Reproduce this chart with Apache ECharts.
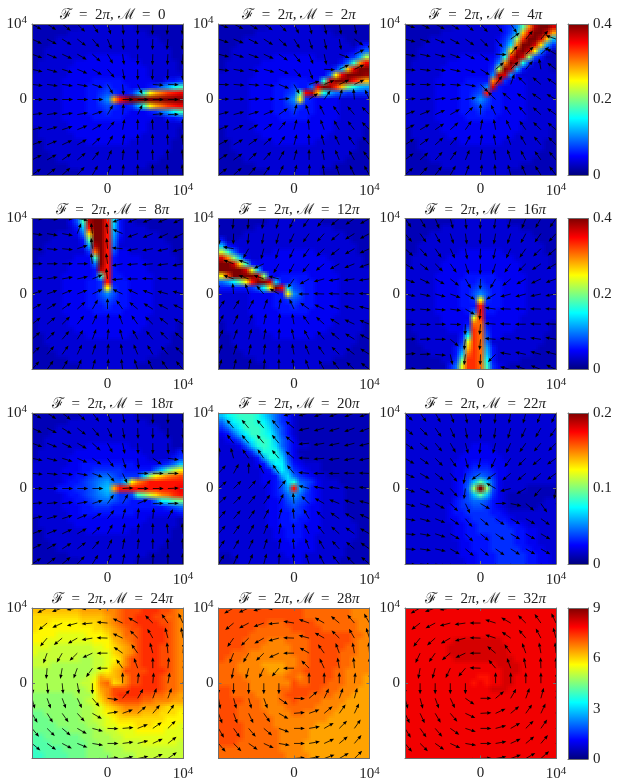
<!DOCTYPE html>
<html>
<head>
<meta charset="utf-8">
<title>Vector fields</title>
<style>
html,body{margin:0;padding:0;background:#fff}
#main{width:618px;height:782px}
</style>
<script src="https://cdn.jsdelivr.net/npm/echarts@6/dist/echarts.min.js"></script>
</head>
<body>
<div id="main"></div>
<script>
// one char per cell, base 36: 0 = bottom of the colour bar, z = top
// rows run from y=+9600 down to y=-9600, '.' means "same as backdrop"
var backdrop=[
'2222222233333333322222222','2222223333333333333222222','2222333333333333333332222','2223333333333333333333222','2233333333333333333333322',
'2233333334444444333333322','2333333444444444443333332','2333334444444444444333332','3333334444444444444333333','3333344444555554444433333',
'3333344445556555444433333','3333344445567655444433333','3333344445579755444433333','3333344445567655444433333','3333344445556555444433333',
'3333344444555554444433333','3333334444444444444333333','2333334444444444444333332','2333333444444444443333332','2233333334444444333333322',
'2233333333333333333333322','2223333333333333333333222','2222333333333333333332222','2222223333333333333222222','2222222233333333322222222'];
var blank='.........................';

var cellsM0=[blank,blank,blank,blank,blank,blank,blank,blank,blank,
'......................556',
'...................568adf',
'................6afmprtuv',
'.............puxzzzzzzzzz',
'................6afmprtuv',
'...................568adf',
'......................556',
blank,blank,blank,blank,blank,blank,blank,blank,blank];
var cellsM2=[blank,blank,blank,
'.......................45',
'......................468',
'.....................56aj',
'....................58fqv',
'...................6bovzz',
'..................8mvzzzy',
'................5fvzzyuro',
'...............8vzytoheba',
'.............fvxoea876666',
'.............m65.........',
blank,blank,blank,blank,blank,blank,blank,blank,blank,blank,blank,blank];
var cellsM4=[
'................569gqxzzw',
'................57bovzzwp',
'...............469jtzzwob',
'...............57cqzzwna6',
'...............59nxzwm95.',
'..............46euzwi75..',
'..............59qzwe6....',
'..............6jzwb5.....',
'.............49xw9.......',
'.............5qw6........',
'.............9w..........',
'.............u...........',
blank,blank,blank,blank,blank,blank,blank,blank,blank,blank,blank,blank,blank];
var cellsM8=[
'......47fxzzuc5..........',
'.......5buzzub5..........',
'.......48nzzua5..........',
'........5gzzu94..........',
'........4axzu8...........',
'.........6rzu7...........',
'.........4fzu5...........',
'..........8zu5...........',
'..........5xu5...........',
'...........fu............',
'...........6u............',
'............m............',
blank,blank,blank,blank,blank,blank,blank,blank,blank,blank,blank,blank,blank];
var cellsM12=[blank,blank,blank,
'5........................',
'b54......................',
'kf84.....................',
'wqib4....................',
'zzwnf5...................',
'zzzzwlb..................',
'mszzzzwi5................',
'8adhmuzzwb...............',
'5555568dmzvc.............',
'...........m.............',
blank,blank,blank,blank,blank,blank,blank,blank,blank,blank,blank,blank];
var cellsM16=[blank,blank,blank,blank,blank,blank,blank,blank,blank,blank,blank,blank,blank,
'............m............',
'...........5u............',
'...........8u............',
'...........lt............',
'..........5rr5...........',
'..........8tr6...........',
'.........5etr7...........',
'.........6ltr8...........',
'........58otra5..........',
'........5brtrb5..........',
'........6httrd5..........',
'.......58lttrf64.........'];
var cellsM18=[blank,blank,blank,blank,blank,blank,
'........................5',
'.......................56',
'........5555555554444568b',
'........5566666555558bgjm',
'.......55678876666bimoqrs',
'......556789a88bmqsuuuuuu',
'....5556678abpuuuuuuuuuuv',
'......556789a8667fhknqrtu',
'.......55678876655558degh',
'........55666555555555678',
'........55555555544444445',
blank,blank,blank,blank,blank,blank,blank,blank];
var cellsM20=[
'bdefffeca8653222222222222','8bdeffedb8653222222222222','68bdfffec9753222222222222','458bdffeda753222222222222','3457bdffeb864222222222222',
'33347befec864332222222222','333346aeeea64222222222222','3333335aeec74322222222222','33333345add85433322222222','333333345ada6543322222222',
'3333333445ac8654332222222','33333334457ce876433322222','33333333457aua75433332222','333333334568a865433332222','3333333344578765433332222',
'3333333344567654433332222','3333333344556654433332222','3333333344556554433333222','3333333344555544433333322','3333333334455544433333322',
'3333333334455544333333322','3333333333445444333333222','3333333333444444333332222','2233333333344433333332222','2223333333334433333322222'];
var cellsM22=[
'3333333333333333333333333','3333333333333333333333333','3333333333333333333333333','3333333333333333333333333','3333333333333333333333333',
'3333333333344433333333333','3333333333444443333333333','3333333334444444333333333','3333333344455544433333333','3333333344566654433333333',
'3333333344678764433333333','33333333457bgb74333333333','33333333458izi74333322222','33333333457bgb64322222222','3333333356788754322222233',
'3333333456677654322222333','3333333455666655433333333','3333333445566665543333333','3333333344556666655433333','3333333344556666665544333',
'3333333344555566665544333','3333333334455566665544333','3333333334455566666554433','3333333334445556666655443','3333333333445556666655443'];
var cellsM24=[
'ooooooooppppqqrssstttssrq','nnnnnnnnoooopqrsstttssrrq','nnnmmmmmnnnopqrssttttssrq','nmmmmmmmmmnnopqrssttttsrq','mmmmlllllmmmnpprrsttttsrq',
'mmllllllllmmmopqrsttttsrq','lllkkkkkkkllmnopqstttssrq','lkkkkkkkkkkllnopqstttssrq','kkkkkkkkjjkklmnqsstttssrq','kkkjjjjjjjkklnoqsstttssrq',
'jjjjjjjjjjklmopsssstttsrq','jjjjjjjjjklpoopqsstttsrrq','jjjjjjjjkkmqrnoqsstttsrrq','jjjjjjjjjkmpqssstttttsrrq','iiiiiiijjjloqsttttssrrqqp',
'iiiiiiiijklnprssssrrqqqpp','iiiiiiiijjklnopqqqppponnn','hhiiiiiijjklmnopppooonnnm','hhhiiiiijjkklmnnnnnnnnmmm','hhhhiiiiijjkllmmmnnnmmmml',
'hhhhhhiiiijjkklllmmmmmlll','gghhhhhhiijjjkkllllllllll','ggghhhhhhiijjjkkkkllllllk','fgggghhhhiiijjjkkkkkkkkkk','ffgggghhhiiiijjjjkkkkkkkk'];
var cellsM28=[
'ssssssssssssssrrrrrrrrqqq','ssssssssssssssrrrrrrrrqqq','ssssssssrrrsssssrrrrrrrqq','ssssssrrrrrrsssssrrrrrrqq','sssssrrrrrrrrrssssssssrrq',
'ssssrrrrqqqrrrrsssssssrqq','ssssrrrqqqqqrrrssssssrrqq','ssrrrqqqqqqqrrrsssssrrrqq','srrrqqqqqqqqqrrsssssrrqqq','rrrqqqqppppqqrrsssssrrqqq',
'rrrqqqqqpppqrrsssssrrqqqq','rrrrqqqqqqqrrqrssssrrqqqp','rrrrrqqqqqqqsrrsssrrrqqqp','ssrrrqqqqqrrsssssrrrqqqpp','ssrrrrqqqqrssssrrrrqqqppp',
'ssssrrrqqqrrsrrrrqqqqpppp','sssrrrrqqqqrrrrrqqqqppppp','sssrrrrrqqqqrrqqqqqpppppp','sssrrrrrrqqqqqqqqqppppppp','ssssrrrrrqqqqqqqppppppppp',
'ssssrrrrrrqqqqqpppppppppp','ssssrrrrrrqqqqqpppppppppp','sssrrrrrrrqqqqppppppppppp','rrrrrrrrrrqqqqppppppppppp','rrrrrrrrrrrqqqqpppppppppp'];
var cellsM32=[
'vvvvvvvvvvvvvvvvvvvvvvvvv','vvvvvvvvvvvvvvvvvvvvvvvvv','vvvvvvvvvvvvvvvvvvvvvvvvv','vvvvvvvvvvvvvvvvvvvvvvvvv','vvvvvvvvvvvvvvvvvvvvvvvvv',
'vvvvvvvvwwwwwwwwvvvvvvvvv','vvvvvvvwwwwwwwwwwvvvvvvvv','vvvvvvvwwwwwwwwwwvvvvvvvv','vvvvvvvvwwwwwwwwwwvvvvvvv','vvvvvvvvvvvvvvvwwwwvvvvvv',
'vvvvvvvvvvvvvvvvwwwvvvvvv','vvvvvvvvvvvvuuvvwwvvvvvvv','vvvvvvvvvvvuvuvvwwvvvvvvv','vvvvvvvvvvvvvvwwwvvvvvvvv','vvvvvvvvvvvvvvvvvvvvvvvvv',
'vvvvvvvvvvvvvvvvvvvvvvvvv','vvvvvvvvvvvvvvvvvvvvvvvvv','vvvvvvvvvvvvvvvvvvvvvvvvv','vvvvvvvvvvvvvvvvvvvvvvvvv','vvvvvvvvvvvvvvvvvvvvvvvvv',
'vvvvvvvvvvvvvvvvvvvvvvvvv','vvvvvvvvvvvvvvvvvvvvvvvvv','vvvvvvvvvvvvvvvvvvvvvvvvv','vvvvvvvvvvvvvvvvvvvvvvvvv','vvvvvvvvvvvvvvvvvvvvvvvvv'];

// arrow direction in degrees, 11 rows (y=+10000 first), 11 columns (x=-10000 first)
// no arrow at the origin
var anglesM0=[[-30,-33,-38,-45,-57,-72,-85,-90,-92,-95,-95],[-25,-28,-32,-38,-50,-68,-85,-90,-92,-95,-95],[-20,-22,-25,-30,-42,-60,-82,-90,-92,-93,-95],[-13,-15,-18,-22,-30,-50,-80,-90,-93,-92,-92],[-7,-8,-8,-10,-18,-60,-85,-65,-5,-2,0],[0,0,0,0,0,null,0,0,0,0,0],[7,8,8,10,18,60,85,65,5,2,0],[13,15,18,22,30,50,80,90,93,92,92],[20,22,25,30,42,60,82,90,92,93,95],[27,30,35,40,52,68,85,90,92,93,95],[35,38,42,48,60,72,85,90,92,95,95]];
var anglesM2=[[-22,-27,-30,-35,-45,-63,-75,-78,-80,-80,-80],[-20,-22,-26,-32,-42,-58,-72,-78,-80,-35,-90],[-15,-17,-20,-25,-35,-52,-68,-78,-20,25,20],[-8,-10,-12,-15,-25,-48,-70,-3,25,25,22],[-2,-5,-5,-8,-22,-60,18,22,25,25,22],[3,3,4,4,5,null,35,55,75,95,115],[15,15,17,22,35,75,108,115,125,130,135],[22,25,28,35,50,75,95,110,120,128,135],[28,30,35,42,55,75,92,105,115,125,130],[33,36,42,48,60,75,90,100,112,120,125],[38,42,48,55,65,75,88,97,108,115,120]];
var anglesM4=[[-22,-25,-28,-32,-40,-48,-50,-55,50,50,50],[-15,-18,-22,-28,-35,-45,-50,35,50,50,160],[-10,-12,-15,-20,-28,-38,-3,50,45,42,150],[-5,-7,-8,-12,-18,-32,40,45,50,100,143],[0,-2,-3,-5,-10,-45,52,70,135,140,145],[5,5,8,8,10,null,135,140,145,145,150],[20,22,25,30,45,90,115,125,130,138,145],[28,30,35,42,55,80,100,115,125,135,140],[33,36,42,50,62,82,100,110,120,130,135],[38,42,48,55,68,82,98,108,118,125,130],[42,47,52,60,70,82,95,105,113,122,128]];
var anglesM8=[[-3,-5,-3,-10,97,97,-160,-158,-158,-158,-155],[-8,-10,-10,70,97,95,157,-160,-158,-155,-155],[-5,-6,-6,18,97,95,175,-170,-170,-168,-165],[0,0,0,0,97,97,-170,-175,-175,-173,-170],[8,10,10,12,22,97,-175,180,178,178,178],[18,20,22,22,25,null,155,155,160,165,165],[30,32,35,42,60,90,125,140,148,152,155],[38,40,45,52,65,85,110,125,135,142,148],[42,45,50,58,70,85,105,118,128,135,140],[45,50,55,65,72,85,100,112,120,130,135],[48,55,60,68,75,85,97,108,117,125,130]];
var anglesM12=[[-90,-95,-95,-100,-105,-115,-125,-130,-140,-145,-150],[-85,-92,-95,-100,-105,-115,-125,-132,-140,-148,-152],[170,170,-120,-105,-108,-115,-125,-135,-142,-150,-155],[165,160,160,-155,-120,-118,-128,-140,-150,-158,-160],[160,160,160,160,165,-125,-150,-165,-170,-172,-172],[92,95,108,132,150,null,180,178,178,177,177],[55,58,62,70,80,115,145,155,160,162,165],[62,65,70,78,85,100,125,138,148,155,158],[65,70,75,80,88,102,118,130,140,148,152],[70,73,78,83,88,100,112,125,135,142,148],[72,77,80,85,90,98,110,120,128,137,142]];
var anglesM16=[[-55,-60,-68,-75,-85,-92,-98,-105,-112,-120,-125],[-50,-55,-62,-72,-82,-92,-100,-108,-118,-125,-132],[-42,-48,-55,-65,-80,-92,-103,-115,-125,-135,-140],[-32,-38,-45,-55,-72,-92,-108,-125,-135,-145,-150],[-22,-25,-30,-38,-60,-92,-120,-140,-150,-155,-160],[-12,-12,-15,-20,-30,null,-150,-165,-165,-168,-170],[-5,-5,-5,-8,-30,-95,172,178,178,178,178],[-2,-2,0,-2,-92,-95,175,178,180,178,178],[2,2,0,-40,-97,-95,175,175,172,172,170],[5,2,-5,-78,-97,-92,-135,170,168,165,165],[5,5,-20,-80,-97,-92,-135,165,160,158,155]];
var anglesM18=[[-30,-33,-38,-43,-52,-68,-80,-88,-90,-90,-90],[-25,-27,-32,-38,-50,-65,-80,-88,-90,-90,-90],[-20,-22,-25,-30,-42,-62,-78,-88,-90,-88,-90],[-12,-14,-17,-23,-35,-55,-72,-85,-35,-8,0],[-5,-6,-7,-10,-20,-50,-65,0,0,0,0],[0,0,0,0,0,null,3,0,0,2,2],[5,6,7,10,18,55,60,22,2,2,2],[13,15,18,22,32,52,75,85,85,62,60],[20,22,25,30,42,62,78,85,90,95,95],[27,30,33,38,50,65,80,85,90,92,92],[33,37,40,47,58,70,80,85,88,90,92]];
var anglesM20=[[130,130,130,128,130,-165,-165,-160,-160,-158,-158],[135,130,130,130,130,140,-168,-165,-163,-160,-160],[125,128,130,130,130,140,-175,-170,-168,-165,-165],[85,105,125,125,130,140,178,-175,-172,-170,-170],[48,62,90,118,125,130,175,180,180,178,178],[42,45,48,52,50,null,165,170,172,172,172],[42,45,50,55,65,95,135,150,158,160,165],[48,50,55,62,75,95,120,135,145,150,155],[50,55,60,68,80,95,115,128,138,145,150],[55,60,65,72,82,95,110,120,132,140,145],[58,65,68,75,88,95,108,118,128,135,140]];
var anglesM22=[[-45,-55,-60,-70,-80,-90,-95,-100,-105,-110,-115],[-40,-45,-55,-65,-80,-90,-98,-105,-115,-120,-125],[-35,-40,-50,-60,-75,-95,-105,-115,-125,-130,-135],[-30,-35,-45,-55,-75,-100,-115,-125,-135,-140,-145],[-25,-30,-38,-50,-100,-145,-145,-140,-140,-140,-145],[-20,-25,-35,-48,-98,null,150,-165,-150,-130,-100],[-15,-20,-28,-45,-65,-30,2,-12,-40,-55,-65],[-10,-15,-22,-35,-50,-40,-35,-30,-30,-35,-40],[-5,-10,-18,-30,-45,-40,-35,-30,-30,-30,-35],[-3,-8,-12,-30,-40,-40,-35,-32,-30,-30,-30],[-3,-5,-10,-25,-35,-40,-35,-30,-30,-28,-28]];
var anglesM24=[[-150,-153,-160,-170,-175,-178,165,150,140,130,125],[-130,-140,-155,-165,-175,175,155,150,135,125,115],[-120,-130,-140,-150,-170,178,155,135,120,105,100],[-105,-110,-120,-135,-155,180,145,125,105,95,85],[-100,-95,-100,-110,-125,180,125,110,90,85,80],[-85,-85,-85,-80,-90,null,90,85,85,80,75],[-75,-70,-70,-65,-50,-8,50,60,70,70,65],[-60,-58,-55,-48,-30,8,20,40,50,55,60],[-50,-45,-40,-30,-15,-2,5,22,35,45,50],[-40,-35,-28,-22,-10,0,8,15,25,38,45],[-35,-30,-25,-18,-8,5,10,12,25,35,45]];
var anglesM28=[[-145,-150,-155,-165,-175,175,165,155,145,135,125],[-135,-140,-152,-160,-175,170,160,150,140,130,120],[-125,-125,-135,-150,-165,178,165,150,135,120,108],[-110,-112,-120,-135,-155,180,150,125,110,100,95],[-100,-100,-105,-115,-130,180,135,115,100,95,90],[-90,-90,-90,-90,-90,null,90,90,90,85,85],[-80,-75,-75,-70,-35,-2,40,65,70,75,75],[-70,-70,-65,-55,-30,5,20,40,55,65,70],[-60,-55,-50,-40,-20,0,10,30,45,55,65],[-50,-45,-35,-25,-10,0,10,25,40,50,55],[-45,-35,-30,-20,-8,5,10,20,30,45,50]];
var anglesM32=[[-145,-150,-160,-170,-178,170,160,150,140,130,125],[-135,-142,-152,-165,-172,180,162,150,135,125,115],[-125,-128,-138,-150,-165,178,162,145,130,118,105],[-110,-115,-125,-140,-155,180,140,125,110,100,95],[-100,-100,-105,-115,-130,178,130,110,100,92,90],[-90,-90,-90,-90,-90,null,90,90,90,90,85],[-75,-75,-70,-65,-35,0,40,60,70,75,80],[-65,-65,-60,-50,-25,3,25,40,55,65,70],[-58,-55,-50,-35,-18,0,15,30,45,55,60],[-50,-45,-35,-25,-10,0,10,25,40,50,55],[-42,-35,-28,-20,-8,3,10,20,30,42,50]];

var titleValues=['0','2π','4π','8π','12π','16π','18π','20π','22π','24π','28π','32π'];
var panelCells=[cellsM0,cellsM2,cellsM4,cellsM8,cellsM12,cellsM16,cellsM18,cellsM20,cellsM22,cellsM24,cellsM28,cellsM32];
var panelAngles=[anglesM0,anglesM2,anglesM4,anglesM8,anglesM12,anglesM16,anglesM18,anglesM20,anglesM22,anglesM24,anglesM28,anglesM32];
var rowMax=[0.4,0.4,0.2,9];
var rowTicks=[0.2,0.2,0.1,3];
var jetColors=['#00007f','#0000ff','#007fff','#00ffff','#7fff7f','#ffff00','#ff7f00','#ff0000','#7f0000'];

var colLeft=[32,218.5,405];
var rowTop=[24,218.5,413,608];
var plotSize=151;
var barLeft=568,barWidth=20;
var cellSize=800,arrowLen=1450;
var frameColor='#6e6e6e';
var textColor='#222';
var fontName='"Liberation Serif","DejaVu Serif",serif';
// the cell layers are painted shifted by these fractions of a cell and averaged, to soften the grid
var shifts=[-1/3,0,1/3];

function cellData(rows,max){
	var out=[];
	for(var r=0;r<rows.length;r++){
		for(var c=0;c<25;c++){
			var ch=rows[r].charAt(c);
			if(ch===''||ch==='.')ch=backdrop[r].charAt(c);
			out.push([-9600+c*cellSize,9600-r*cellSize,parseInt(ch,36)/35*max]);
		}
	}
	return out;
}
function arrowData(rows){
	var out=[];
	for(var r=0;r<11;r++){
		for(var c=0;c<11;c++){
			if(rows[r][c]===null)continue;
			out.push([-10000+c*2000,10000-r*2000,rows[r][c]]);
		}
	}
	return out;
}
function makeCell(sx,sy,alpha){
	return function(params,api){
		var x=api.value(0),y=api.value(1),half=cellSize/2;
		// cells on the rim reach past the frame so shifted layers leave no gap
		var x0=x-half-(x===-9600?cellSize:0),x1=x+half+(x===9600?cellSize:0);
		var y1=y+half+(y===9600?cellSize:0),y0=y-half-(y===-9600?cellSize:0);
		var a=api.coord([x0+sx*cellSize,y1+sy*cellSize]);
		var b=api.coord([x1+sx*cellSize,y0+sy*cellSize]);
		var l=Math.round(a[0]),t=Math.round(a[1]);
		return {type:'rect',shape:{x:l,y:t,width:Math.round(b[0])-l,height:Math.round(b[1])-t},
			style:{fill:api.visual('color'),opacity:alpha}};
	};
}
function renderArrow(params,api){
	var x=api.value(0),y=api.value(1),deg=api.value(2)*Math.PI/180;
	var p0=api.coord([x,y]);
	var p1=api.coord([x+arrowLen*Math.cos(deg),y+arrowLen*Math.sin(deg)]);
	var dx=p1[0]-p0[0],dy=p1[1]-p0[1],len=Math.sqrt(dx*dx+dy*dy);
	var ux=dx/len,uy=dy/len,h=4.2,w=1.7;
	var bx=p1[0]-ux*h,by=p1[1]-uy*h;
	return {type:'group',children:[
		{type:'line',shape:{x1:p0[0],y1:p0[1],x2:bx,y2:by},style:{stroke:'#000',lineWidth:0.8}},
		{type:'polygon',shape:{points:[[p1[0],p1[1]],[bx-uy*w,by+ux*w],[bx+uy*w,by-ux*w]]},style:{fill:'#000'}}
	]};
}
function renderBar(params,api){
	var a=api.coord([0,api.value(1)]);
	var b=api.coord([1,api.value(0)]);
	var stops=[];
	for(var i=0;i<jetColors.length;i++){
		stops.push({offset:i/(jetColors.length-1),color:jetColors[jetColors.length-1-i]});
	}
	return {type:'rect',shape:{x:a[0],y:a[1],width:b[0]-a[0],height:b[1]-a[1]},
		style:{fill:new echarts.graphic.LinearGradient(0,0,0,1,stops)}};
}
function tickLabel(v){
	if(v===10000)return '{n|10}{s|4}';
	if(v===0)return '0';
	return '';
}
var labelRich={n:{fontFamily:fontName,fontSize:15,color:textColor},s:{fontFamily:fontName,fontSize:11,color:textColor,padding:[0,0,7,0]}};
var titleRich={t:{fontFamily:fontName,fontSize:15,fontWeight:'normal',color:textColor},i:{fontFamily:fontName,fontSize:15,fontWeight:'normal',fontStyle:'italic',color:textColor}};

function titleText(val){
	var s='ℱ\u2002=\u20022π, ℳ\u2002=\u2002'+val;
	return '{t|'+s.replace(/π/g,'}{i|π}{t|')+'}';
}

var grids=[],xAxes=[],yAxes=[],series=[],titles=[],maps=[];
function addAxes(gi,xOpt,yOpt){
	var line={show:true,onZero:false,lineStyle:{color:frameColor,width:1}};
	var tick={show:true,inside:true,length:3,lineStyle:{color:frameColor,width:1}};
	xAxes.push(echarts.util.merge({gridIndex:gi,type:'value',position:'bottom',z:5,splitLine:{show:false},axisLine:line,axisTick:tick,axisLabel:{show:false}},xOpt,true));
	xAxes.push({gridIndex:gi,type:'value',position:'top',z:5,min:xOpt.min,max:xOpt.max,interval:xOpt.interval,splitLine:{show:false},axisLine:line,axisTick:tick,axisLabel:{show:false}});
	yAxes.push(echarts.util.merge({gridIndex:gi,type:'value',position:'left',z:5,splitLine:{show:false},axisLine:line,axisTick:tick,axisLabel:{show:false}},yOpt,true));
	yAxes.push({gridIndex:gi,type:'value',position:'right',z:5,min:yOpt.min,max:yOpt.max,interval:yOpt.interval,splitLine:{show:false},axisLine:line,axisTick:tick,axisLabel:{show:false}});
}

var heatIdx=[[],[],[],[]];
for(var i=0;i<12;i++){
	var row=Math.floor(i/3),col=i%3;
	var gi=grids.length;
	grids.push({left:colLeft[col],top:rowTop[row],width:plotSize,height:plotSize});
	titles.push({text:titleText(titleValues[i]),left:colLeft[col]+plotSize/2,top:rowTop[row]-21,textAlign:'center',
		textStyle:{fontWeight:'normal',rich:titleRich}});
	addAxes(gi,
		{min:-10000,max:10000,interval:10000,axisLabel:{show:true,formatter:tickLabel,margin:7,rich:labelRich,fontFamily:fontName,fontSize:15,color:textColor}},
		{min:-10000,max:10000,interval:10000,axisLabel:{show:true,formatter:tickLabel,margin:5,rich:labelRich,fontFamily:fontName,fontSize:15,color:textColor}});
	var axisIdx=gi*2;
	var cells=cellData(panelCells[i],rowMax[row]);
	var layer=0;
	for(var sy=0;sy<shifts.length;sy++){
		for(var sx=0;sx<shifts.length;sx++){
			heatIdx[row].push(series.length);
			series.push({type:'custom',xAxisIndex:axisIdx,yAxisIndex:axisIdx,renderItem:makeCell(shifts[sx],shifts[sy],1/(layer+1)),clip:true,silent:true,
				encode:{x:0,y:1},data:cells,z:1});
			layer++;
		}
	}
	series.push({type:'custom',xAxisIndex:axisIdx,yAxisIndex:axisIdx,renderItem:renderArrow,clip:true,silent:true,
		encode:{x:0,y:1},data:arrowData(panelAngles[i]),z:2});
}
for(var k=0;k<4;k++){
	var g=grids.length;
	grids.push({left:barLeft,top:rowTop[k],width:barWidth,height:plotSize});
	addAxes(g,
		{min:0,max:1,interval:1,axisTick:{show:false}},
		{min:0,max:rowMax[k],interval:rowTicks[k],axisLabel:{show:false}});
	// labels go on the right hand axis of the colour bar
	var rightAxis=yAxes[yAxes.length-1];
	rightAxis.axisLabel={show:true,margin:5,fontFamily:fontName,fontSize:15,color:textColor};
	series.push({type:'custom',xAxisIndex:g*2,yAxisIndex:g*2,renderItem:renderBar,silent:true,
		encode:{x:0,y:1},data:[[0,rowMax[k]]],z:1});
	maps.push({show:false,type:'continuous',seriesIndex:heatIdx[k],dimension:2,min:0,max:rowMax[k],inRange:{color:jetColors}});
}

var chart=echarts.init(document.getElementById('main'),null,{renderer:'canvas'});
chart.setOption({
	animation:false,
	backgroundColor:'#fff',
	title:titles,
	grid:grids,
	xAxis:xAxes,
	yAxis:yAxes,
	visualMap:maps,
	series:series
});
</script>
</body>
</html>
